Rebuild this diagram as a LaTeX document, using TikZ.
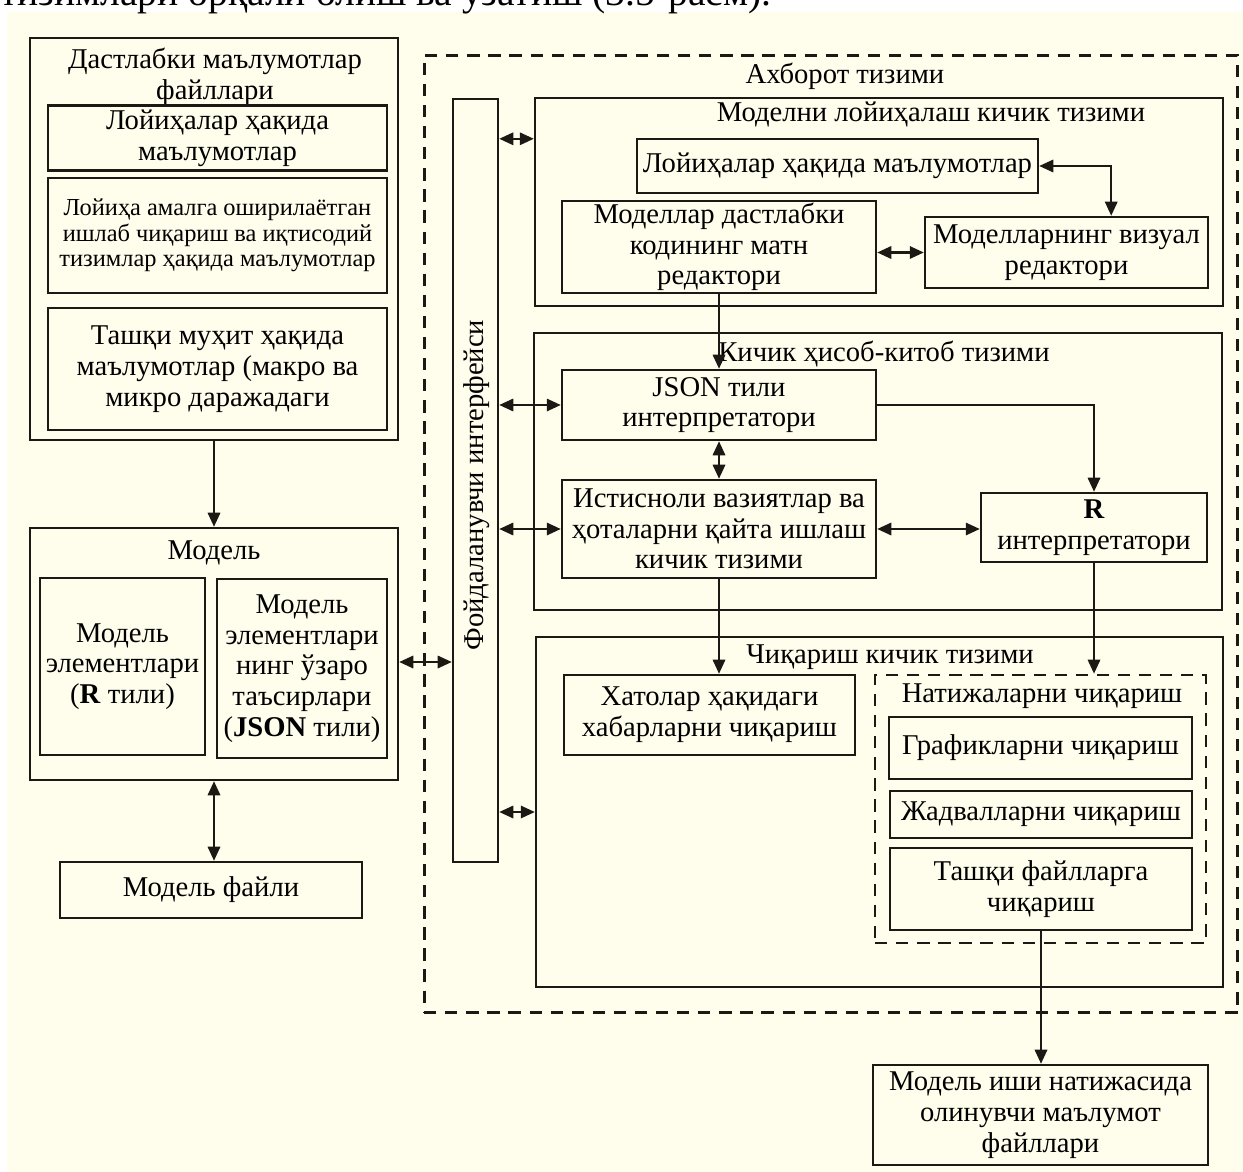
\documentclass[tikz,border=0pt]{standalone}
\usepackage{fontspec}
\setmainfont{Liberation Serif}
\usetikzlibrary{arrows.meta,calc}
\definecolor{paper}{RGB}{255,253,236}
\definecolor{ink}{RGB}{28,24,20}
\newcommand{\mainfs}{\fontsize{16.3}{17.5}\selectfont}
\newcommand{\smallfs}{\fontsize{13.9}{14.6}\selectfont}
\tikzset{
    frame/.style={draw=ink,line width=1.4pt,inner sep=0pt},
    dframe/.style={draw=ink,line width=1.7pt,dash pattern=on 7pt off 5pt,inner sep=0pt},
    box/.style={frame,align=center,inner sep=1pt,font=\mainfs},
    title/.style={align=center,inner sep=0pt,font=\mainfs},
    arr/.style={draw=ink,line width=1.3pt,-{Triangle[length=8pt,width=7pt]}},
    dbl/.style={draw=ink,line width=1.3pt,{Triangle[length=8pt,width=7pt]}-{Triangle[length=8pt,width=7pt]}},
}
\begin{document}
\begin{tikzpicture}[x=0.02cm,y=-0.02cm]
        %% Page
        \useasboundingbox (0,0) rectangle (1243,1172);
        \fill[paper] (7,12) rectangle (1243,1172);
        \begin{scope}
            \clip (0,0) rectangle (1243,1172);
            \node[anchor=base west,inner sep=0pt,font=\fontsize{22.5}{25}\selectfont] (capline) at (0,6) {тизимлари орқали олиш ва узатиш (3.5-расм).};
        \end{scope}
        %% Input files
        \node[frame,minimum width=7.36cm,minimum height=8.04cm] (initf) at (214,239) {};
        \node[title] (initft) at (215,77) {Дастлабки маълумотлар\\файллари};
        \node[box,minimum width=6.78cm,minimum height=1.3cm] (projinfo) at (217.5,138) {Лойиҳалар ҳақида\\маълумотлар};
        \node[box,font=\smallfs,minimum width=6.78cm,minimum height=2.3cm] (prodsys) at (217.5,235.5) {Лойиҳа амалга оширилаётган\\ишлаб чиқариш ва иқтисодий\\тизимлар ҳақида маълумотлар};
        \node[box,minimum width=6.78cm,minimum height=2.44cm] (extenv) at (217.5,369) {Ташқи муҳит ҳақида\\маълумотлар (макро ва\\микро даражадаги};
        %% Model
        \node[frame,minimum width=7.36cm,minimum height=5.04cm] (model) at (214,654) {};
        \node[title] (modelt) at (214,553) {Модель};
        \node[box,minimum width=3.3cm,minimum height=3.54cm] (modelR) at (122.5,666.5) {Модель\\элементлари\\(\textbf{R} тили)};
        \node[box,minimum width=3.4cm,minimum height=3.58cm] (modelJ) at (302,668.5) {Модель\\элементлари\\нинг ўзаро\\таъсирлари\\(\textbf{JSON} тили)};
        \node[box,minimum width=6.04cm,minimum height=1.12cm] (modfile) at (211,890) {Модель файли};
        %% Information system
        \node[dframe,minimum width=16.28cm,minimum height=19.16cm] (info) at (831,534) {};
        \node[title] (infot) at (845,76) {Ахборот тизими};
        \node[frame,minimum width=0.9cm,minimum height=15.26cm] (ui) at (475.5,480.5) {};
        \node[title,rotate=90] (uit) at (477,485) {Фойдаланувчи интерфейси};
        %% Design subsystem
        \node[frame,minimum width=13.76cm,minimum height=4.16cm] (design) at (879,202) {};
        \node[title] (designt) at (931,114) {Моделни лойиҳалаш кичик тизими};
        \node[box,minimum width=8.02cm,minimum height=1.08cm] (projdata) at (837.5,166) {Лойиҳалар ҳақида маълумотлар};
        \node[box,minimum width=6.28cm,minimum height=1.8cm] (texted) at (719,247) {Моделлар дастлабки\\кодининг матн\\редактори};
        \node[box,minimum width=5.66cm,minimum height=1.42cm] (vised) at (1066.5,252.5) {Моделларнинг визуал\\редактори};
        %% Calculation subsystem
        \node[frame,minimum width=13.76cm,minimum height=5.54cm] (calc) at (878,471.5) {};
        \node[title] (calct) at (884,354) {Кичик ҳисоб-китоб тизими};
        \node[box,minimum width=6.28cm,minimum height=1.4cm] (json) at (719,405) {JSON тили\\интерпретатори};
        \node[box,minimum width=6.28cm,minimum height=1.96cm] (except) at (719,529) {Истисноли вазиятлар ва\\ҳоталарни қайта ишлаш\\кичик тизими};
        \node[box,minimum width=4.52cm,minimum height=1.38cm] (rint) at (1094,527.5) {\textbf{R}\\интерпретатори};
        %% Output subsystem
        \node[frame,minimum width=13.74cm,minimum height=7cm] (output) at (879.5,812) {};
        \node[title] (outputt) at (890,657) {Чиқариш кичик тизими};
        \node[box,minimum width=5.82cm,minimum height=1.6cm] (errmsg) at (709.5,715) {Хатолар ҳақидаги\\хабарларни чиқариш};
        \node[dframe,line width=1.5pt,minimum width=6.62cm,minimum height=5.36cm] (results) at (1040.5,809) {};
        \node[title] (resultst) at (1042,696) {Натижаларни чиқариш};
        \node[box,minimum width=6.06cm,minimum height=1.24cm] (graphs) at (1040.5,748) {Графикларни чиқариш};
        \node[box,minimum width=6.04cm,minimum height=0.94cm] (tables) at (1041,814.5) {Жадвалларни чиқариш};
        \node[box,minimum width=6.04cm,minimum height=1.64cm] (extfiles) at (1041,889) {Ташқи файлларга\\чиқариш};
        \node[box,minimum width=6.7cm,minimum height=2cm] (resfiles) at (1040.5,1115) {Модель иши натижасида\\олинувчи маълумот\\файллари};
        %% Connectors
        \coordinate (mdlrow) at ($(model.east)+(0,8)$);
        \coordinate (dsnrow) at ($(design.north west)+(0,42)$);
        \coordinate (visknee) at ($(vised.north east)+(-98,0)$);
        \draw[arr] (initf.south) -- (model.north);
        \draw[dbl] (model.south) -- (model.south |- modfile.north);
        \draw[dbl] (mdlrow) -- (mdlrow -| ui.west);
        \draw[dbl] (ui.east |- dsnrow) -- (dsnrow);
        \draw[dbl] (ui.east |- json.west) -- (json.west);
        \draw[dbl] (ui.east |- except.west) -- (except.west);
        \draw[dbl] (ui.east |- output.west) -- (output.west);
        \draw[dbl] (projdata.east) -| (visknee);
        \draw[dbl] (vised.west -| texted.east) -- (vised.west);
        \draw[arr] (texted.south) -- (json.north);
        \draw[dbl] (json.south) -- (except.north);
        \draw[arr] (json.east) -| (rint.north);
        \draw[dbl] (except.east) -- (except.east -| rint.west);
        \draw[arr] (except.south) -- (except.south |- errmsg.north);
        \draw[arr] (rint.south) -- (rint.south |- results.north);
        \draw[arr] (extfiles.south) -- (extfiles.south |- resfiles.north);
\end{tikzpicture}
\end{document}
